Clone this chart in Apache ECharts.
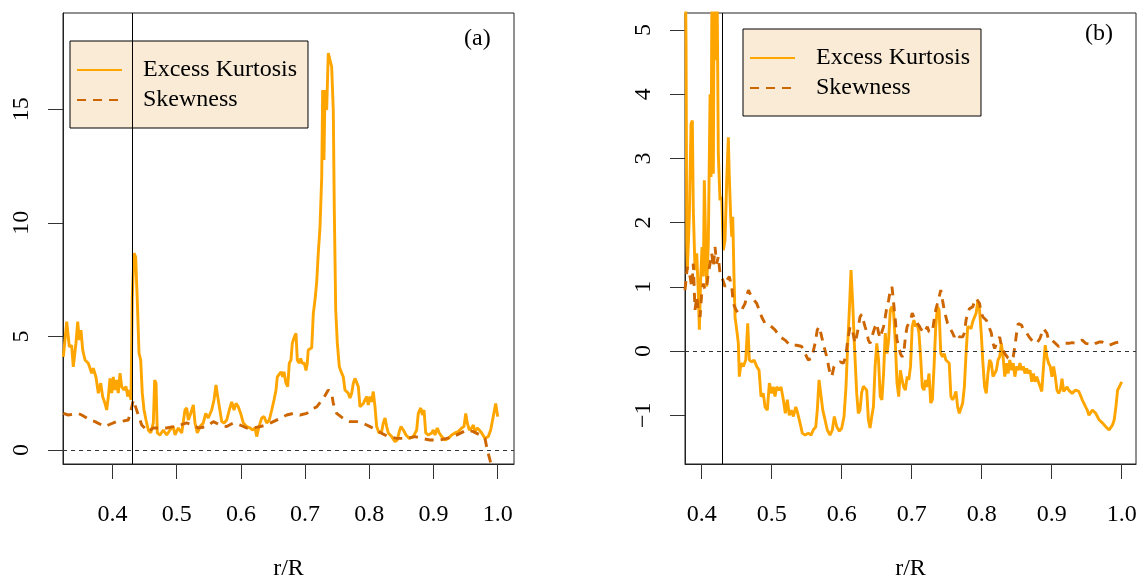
<!DOCTYPE html>
<html>
<head>
<meta charset="utf-8">
<script src="https://cdn.jsdelivr.net/npm/echarts@6/dist/echarts.min.js"></script>
<style>html,body{margin:0;padding:0;background:#fff}#c{width:1138px;height:578px}</style>
</head>
<body>
<div id="c"></div>
<script>
const xTicks = [0.4, 0.5, 0.6, 0.7, 0.8, 0.9, 1.0];
const yTicksA = [0, 5, 10, 15];
const yTicksB = [-1, 0, 1, 2, 3, 4, 5];
const seriesNames = ['Excess Kurtosis', 'Skewness'];
const panelLabels = ['(a)', '(b)'];
const markR = 0.43;

const kurtA = [[0.3234,4.1],[0.3287,5.65],[0.3327,4.55],[0.3364,4.6],[0.3389,3.66],[0.3431,4.7],[0.3458,5.65],[0.3483,4.84],[0.3509,5.28],[0.3536,4.4],[0.3572,3.96],[0.3623,3.82],[0.3676,3.38],[0.3701,3.6],[0.3743,3.2],[0.3779,2.5],[0.3816,2.94],[0.3847,2.35],[0.3883,2.05],[0.391,1.76],[0.3935,2.35],[0.3961,3.15],[0.3988,2.5],[0.4012,3.22],[0.4039,2.64],[0.4065,3.08],[0.409,2.5],[0.4117,3.38],[0.4143,2.79],[0.4179,2.64],[0.421,2.79],[0.4237,2.35],[0.4262,2.64],[0.4288,2.2],[0.4308,6.74],[0.4335,8.66],[0.4361,8.5],[0.4386,6.6],[0.4413,4.27],[0.4439,3.96],[0.4464,2.5],[0.4491,1.76],[0.4522,1.32],[0.4558,0.88],[0.4595,0.75],[0.4636,1.19],[0.4657,3.08],[0.4678,2.94],[0.4698,0.75],[0.474,0.66],[0.4791,0.88],[0.4844,0.66],[0.4896,0.88],[0.4947,1.03],[0.4974,0.66],[0.5025,0.97],[0.5078,0.75],[0.5129,1.76],[0.5156,1.85],[0.5181,1.32],[0.5218,1.61],[0.5259,1.98],[0.5285,1.19],[0.5321,0.75],[0.5363,1.03],[0.5414,1.19],[0.5452,1.61],[0.5492,1.41],[0.5545,1.76],[0.5581,2.2],[0.5612,2.86],[0.5639,2.35],[0.5664,1.9],[0.5701,1.25],[0.5737,1.19],[0.5779,1.32],[0.5819,1.76],[0.5857,2.12],[0.5893,1.76],[0.5924,2.05],[0.5959,1.9],[0.5997,1.61],[0.6037,1.19],[0.609,1.03],[0.6142,0.97],[0.6184,0.88],[0.622,0.97],[0.6246,0.59],[0.6282,1.03],[0.6324,1.41],[0.636,1.47],[0.6402,1.19],[0.6442,1.32],[0.648,1.76],[0.6516,2.2],[0.6547,2.64],[0.6567,3.22],[0.6598,3.3],[0.6625,3.44],[0.6651,3.22],[0.6671,3.44],[0.6702,2.94],[0.6729,2.79],[0.6754,3.82],[0.678,3.96],[0.6801,4.7],[0.6832,4.98],[0.6858,5.13],[0.6879,3.96],[0.6905,3.82],[0.6931,4.03],[0.6956,3.82],[0.6988,3.82],[0.7014,3.5],[0.7034,3.82],[0.7049,4.4],[0.7065,4.4],[0.7103,4.5],[0.7128,6.0],[0.7154,6.6],[0.7181,7.4],[0.7206,8.7],[0.7232,9.8],[0.7259,12.02],[0.7274,15.84],[0.7294,12.76],[0.731,15.84],[0.7336,14.96],[0.7361,17.47],[0.7388,17.16],[0.7414,16.86],[0.7439,14.96],[0.7455,10.56],[0.7477,6.16],[0.7502,4.7],[0.7533,3.66],[0.757,3.38],[0.7595,3.22],[0.7621,2.64],[0.7648,2.57],[0.7673,2.5],[0.7699,2.29],[0.7726,2.5],[0.7751,2.94],[0.7777,3.15],[0.7804,3.22],[0.7829,2.79],[0.7855,1.9],[0.7882,1.98],[0.7907,2.05],[0.7933,2.2],[0.7959,2.35],[0.7984,1.98],[0.8011,2.35],[0.8037,2.12],[0.8062,2.57],[0.8089,1.9],[0.8115,1.03],[0.8151,0.75],[0.8193,0.81],[0.8218,1.19],[0.8245,1.41],[0.8271,1.03],[0.8296,0.75],[0.8349,0.59],[0.84,0.37],[0.8436,0.44],[0.8467,0.81],[0.8494,1.03],[0.853,0.88],[0.8572,0.66],[0.8623,0.51],[0.8685,0.59],[0.8738,0.88],[0.8763,1.61],[0.8801,1.85],[0.8826,1.54],[0.8852,1.76],[0.8879,0.75],[0.8919,0.66],[0.8972,0.75],[0.8997,0.88],[0.9023,0.66],[0.9059,0.97],[0.909,0.75],[0.9128,0.59],[0.9179,0.44],[0.9231,0.51],[0.9283,0.66],[0.9335,0.75],[0.9386,0.81],[0.9439,0.97],[0.9475,1.03],[0.9502,1.61],[0.9526,1.19],[0.9558,0.88],[0.9595,0.97],[0.962,1.1],[0.9646,0.81],[0.9682,0.97],[0.9713,0.88],[0.9751,0.75],[0.9802,0.51],[0.9854,0.59],[0.9891,0.88],[0.9931,1.47],[0.9969,2.05],[1.0,1.47]];

const skewA = [[0.3234,1.61],[0.3312,1.54],[0.3467,1.61],[0.352,1.54],[0.365,1.32],[0.3727,1.25],[0.3883,1.03],[0.3935,1.1],[0.4065,1.25],[0.4117,1.25],[0.4246,1.32],[0.4283,1.69],[0.4324,2.2],[0.4402,1.54],[0.4455,1.1],[0.4558,0.81],[0.4636,0.97],[0.474,0.97],[0.4844,0.97],[0.4947,1.03],[0.5051,1.1],[0.5156,1.19],[0.5259,1.1],[0.5336,0.97],[0.5467,1.03],[0.557,1.25],[0.5674,1.1],[0.5779,1.03],[0.5882,1.19],[0.5986,1.1],[0.609,0.97],[0.6193,0.97],[0.6298,1.03],[0.6402,1.1],[0.6505,1.25],[0.6609,1.39],[0.6713,1.54],[0.6816,1.61],[0.6921,1.54],[0.7025,1.61],[0.7128,1.83],[0.7181,1.9],[0.7284,2.27],[0.7361,2.64],[0.7414,2.5],[0.7439,2.05],[0.7492,1.61],[0.7595,1.39],[0.7699,1.25],[0.7804,1.25],[0.7907,1.17],[0.8011,1.03],[0.8115,0.88],[0.8193,0.73],[0.8296,0.59],[0.8427,0.51],[0.8583,0.51],[0.8712,0.59],[0.8816,0.51],[0.8946,0.44],[0.9101,0.44],[0.9206,0.51],[0.9308,0.59],[0.9413,0.73],[0.9517,0.88],[0.962,0.81],[0.9724,0.66],[0.9802,0.51],[0.9838,0.0],[0.988,-0.44],[0.9927,-1.0]];

const kurtB = [[0.3761,6.5],[0.3776,4.79],[0.3786,1.67],[0.3794,1.26],[0.3823,2.09],[0.3847,3.54],[0.3866,3.59],[0.388,2.19],[0.3904,1.26],[0.3929,1.52],[0.3951,0.9],[0.3966,0.33],[0.3986,1.16],[0.4004,1.62],[0.4023,1.16],[0.4037,2.66],[0.4057,1.67],[0.4071,1.0],[0.4094,1.67],[0.4119,4.0],[0.4133,2.71],[0.4147,6.0],[0.4166,2.76],[0.418,6.5],[0.42,4.53],[0.4214,6.5],[0.4237,3.07],[0.4261,2.35],[0.4286,2.4],[0.4309,1.57],[0.4333,1.73],[0.4357,2.66],[0.438,3.33],[0.4394,2.71],[0.4414,2.09],[0.4429,1.78],[0.4443,2.09],[0.4461,1.16],[0.4476,0.53],[0.45,0.33],[0.4523,0.12],[0.4537,-0.4],[0.4561,-0.19],[0.4594,-0.24],[0.4629,-0.14],[0.4657,0.43],[0.468,-0.14],[0.4714,-0.17],[0.4747,-0.14],[0.4786,-0.24],[0.4819,-0.3],[0.4847,-0.71],[0.488,-0.66],[0.4904,-0.87],[0.4937,-0.92],[0.4966,-0.5],[0.5,-0.66],[0.5023,-0.56],[0.5047,-0.71],[0.5071,-0.56],[0.5104,-0.61],[0.5133,-0.56],[0.5166,-0.76],[0.5194,-0.97],[0.5223,-0.76],[0.5251,-1.0],[0.528,-0.92],[0.5309,-1.02],[0.5343,-0.87],[0.5371,-0.97],[0.5404,-1.12],[0.5437,-1.28],[0.5476,-1.31],[0.5523,-1.28],[0.5561,-1.31],[0.5594,-1.23],[0.5629,-1.18],[0.5651,-0.92],[0.5676,-0.45],[0.57,-0.66],[0.5729,-0.92],[0.5761,-1.07],[0.5794,-1.23],[0.5833,-1.31],[0.5866,-1.23],[0.5894,-1.02],[0.5929,-1.18],[0.5966,-1.25],[0.6,-1.2],[0.6033,-1.02],[0.6061,-0.56],[0.6086,0.12],[0.6109,0.64],[0.6133,1.26],[0.6157,0.74],[0.618,0.12],[0.6214,-0.66],[0.6237,-0.97],[0.6261,-0.92],[0.6285,-0.65],[0.6309,-0.55],[0.6333,-0.53],[0.6357,-0.61],[0.6381,-1.07],[0.6405,-1.2],[0.6429,-1.02],[0.6453,-0.87],[0.6477,-0.24],[0.6501,0.12],[0.6526,-0.14],[0.655,-0.71],[0.6574,-0.76],[0.6598,-0.35],[0.6622,0.28],[0.6646,-0.04],[0.667,0.17],[0.6694,0.64],[0.6718,0.69],[0.6742,0.59],[0.6766,0.12],[0.679,-0.5],[0.6814,-0.71],[0.6838,-0.3],[0.6862,-0.45],[0.6886,-0.56],[0.691,-0.61],[0.6934,-0.4],[0.6958,-0.45],[0.6983,-0.24],[0.7007,0.38],[0.7031,0.48],[0.7055,0.38],[0.7079,0.43],[0.7103,0.28],[0.7127,-0.09],[0.7151,-0.56],[0.7175,-0.61],[0.7199,-0.45],[0.7223,-0.56],[0.7247,-0.35],[0.7271,-0.81],[0.7295,-0.76],[0.7319,-0.24],[0.7343,0.38],[0.7367,0.69],[0.7391,0.64],[0.7415,-0.04],[0.744,-0.09],[0.7464,-0.04],[0.7488,-0.14],[0.7512,-0.11],[0.7536,-0.19],[0.756,-0.71],[0.7584,-0.76],[0.7608,-0.71],[0.7632,-0.63],[0.7656,-0.87],[0.768,-0.97],[0.7704,-0.94],[0.7728,-0.81],[0.7752,-0.56],[0.7776,-0.04],[0.78,0.38],[0.7824,0.4],[0.7848,0.35],[0.7872,0.46],[0.7896,0.43],[0.792,0.59],[0.7944,0.77],[0.7969,0.64],[0.7993,0.28],[0.8017,-0.19],[0.8041,-0.56],[0.8065,-0.66],[0.8089,-0.35],[0.8113,-0.14],[0.8137,-0.19],[0.8161,-0.4],[0.8185,-0.35],[0.8209,-0.3],[0.8233,-0.14],[0.8257,-0.09],[0.8281,0.12],[0.8305,-0.09],[0.8329,-0.4],[0.8353,-0.19],[0.8377,-0.35],[0.8401,-0.14],[0.8426,-0.3],[0.845,-0.19],[0.8474,-0.4],[0.8498,-0.24],[0.8522,-0.3],[0.8546,-0.19],[0.857,-0.3],[0.8594,-0.24],[0.8618,-0.35],[0.8642,-0.27],[0.8666,-0.35],[0.869,-0.3],[0.8714,-0.48],[0.8738,-0.35],[0.8762,-0.48],[0.8786,-0.4],[0.881,-0.48],[0.8834,-0.5],[0.8858,-0.63],[0.8883,-0.24],[0.8907,0.09],[0.8931,-0.09],[0.8955,-0.19],[0.8979,-0.24],[0.9003,-0.4],[0.9027,-0.24],[0.9051,-0.4],[0.9075,-0.61],[0.9099,-0.66],[0.9123,-0.61],[0.9147,-0.43],[0.9171,-0.63],[0.9195,-0.61],[0.9219,-0.56],[0.9243,-0.61],[0.9267,-0.63],[0.9291,-0.66],[0.9315,-0.63],[0.9339,-0.61],[0.9363,-0.61],[0.9388,-0.63],[0.9412,-0.66],[0.9436,-0.76],[0.946,-0.76],[0.9484,-0.87],[0.9508,-0.92],[0.9532,-1.0],[0.9556,-0.97],[0.958,-0.92],[0.9604,-0.89],[0.9628,-0.97],[0.9652,-1.02],[0.9676,-1.07],[0.97,-1.1],[0.9724,-1.12],[0.9748,-1.15],[0.9772,-1.18],[0.9796,-1.2],[0.982,-1.23],[0.9845,-1.2],[0.9869,-1.15],[0.9893,-1.07],[0.9917,-0.87],[0.9941,-0.61],[0.9965,-0.56],[0.9989,-0.58],[1.0,-0.48]];

const skewB = [[0.3761,0.95],[0.3794,1.31],[0.3833,1.16],[0.3857,1.0],[0.388,1.36],[0.3904,0.64],[0.3929,0.84],[0.3951,0.64],[0.3976,0.53],[0.4,0.9],[0.4023,1.05],[0.4047,0.95],[0.4071,1.0],[0.4094,1.21],[0.4119,1.36],[0.4143,1.52],[0.4166,1.31],[0.419,1.62],[0.4214,1.36],[0.4237,1.47],[0.4261,1.21],[0.4286,1.16],[0.4333,1.0],[0.4357,1.1],[0.4394,1.16],[0.4429,1.0],[0.4451,0.74],[0.449,0.64],[0.4523,0.59],[0.4571,0.64],[0.4619,0.74],[0.4666,0.95],[0.4714,0.84],[0.4786,0.74],[0.4857,0.53],[0.4904,0.43],[0.4976,0.4],[0.5047,0.33],[0.5119,0.22],[0.519,0.17],[0.5261,0.09],[0.5357,0.09],[0.5429,0.07],[0.5476,-0.04],[0.5523,-0.14],[0.5571,-0.11],[0.5619,0.12],[0.5651,0.33],[0.568,0.38],[0.5714,0.22],[0.5747,0.07],[0.5786,-0.09],[0.5823,-0.3],[0.5857,-0.4],[0.589,-0.24],[0.5929,-0.19],[0.5976,-0.17],[0.6023,-0.19],[0.6057,-0.09],[0.6086,0.17],[0.6119,0.38],[0.6157,0.3],[0.619,0.12],[0.6223,0.28],[0.6261,0.53],[0.6285,0.57],[0.6333,0.38],[0.6357,0.3],[0.6381,0.17],[0.6405,0.12],[0.6429,0.14],[0.6453,0.3],[0.6477,0.38],[0.6501,0.43],[0.6526,0.28],[0.655,0.2],[0.6574,0.3],[0.6598,0.38],[0.6622,0.53],[0.6646,0.69],[0.667,0.79],[0.6694,0.95],[0.6718,1.0],[0.6742,0.74],[0.6766,0.48],[0.679,0.17],[0.6814,0.07],[0.6838,-0.04],[0.6862,-0.09],[0.6886,-0.04],[0.691,0.22],[0.6934,0.38],[0.6958,0.43],[0.6983,0.48],[0.7007,0.59],[0.7031,0.53],[0.7055,0.46],[0.7079,0.43],[0.7103,0.4],[0.7127,0.35],[0.7151,0.33],[0.7175,0.28],[0.7199,0.33],[0.7223,0.38],[0.7247,0.3],[0.7271,0.28],[0.7295,0.3],[0.7319,0.48],[0.7343,0.64],[0.7367,0.74],[0.7391,0.84],[0.7415,0.95],[0.744,0.79],[0.7464,0.64],[0.7488,0.53],[0.7512,0.43],[0.7536,0.38],[0.756,0.33],[0.7584,0.28],[0.7608,0.22],[0.7632,0.28],[0.7656,0.3],[0.768,0.22],[0.7704,0.2],[0.7728,0.22],[0.7752,0.28],[0.7776,0.48],[0.78,0.59],[0.7824,0.66],[0.7848,0.64],[0.7872,0.69],[0.7896,0.77],[0.792,0.82],[0.7944,0.82],[0.7969,0.74],[0.7993,0.59],[0.8017,0.53],[0.8041,0.51],[0.8065,0.48],[0.8089,0.43],[0.8113,0.35],[0.8137,0.28],[0.8161,0.12],[0.8185,0.04],[0.8209,0.02],[0.8233,0.17],[0.8257,0.22],[0.8281,0.07],[0.8329,-0.04],[0.8377,-0.11],[0.8426,-0.14],[0.845,-0.09],[0.8474,0.07],[0.8498,0.28],[0.8522,0.43],[0.8546,0.46],[0.857,0.4],[0.8594,0.33],[0.8618,0.3],[0.8642,0.28],[0.8666,0.25],[0.869,0.2],[0.8714,0.17],[0.8738,0.14],[0.8762,0.12],[0.8786,0.12],[0.881,0.14],[0.8834,0.2],[0.8858,0.28],[0.8883,0.35],[0.8907,0.38],[0.8931,0.28],[0.8955,0.17],[0.8979,0.14],[0.9003,0.17],[0.9027,0.17],[0.9051,0.12],[0.9075,0.09],[0.9099,0.07],[0.9123,0.07],[0.9147,0.09],[0.9195,0.12],[0.9243,0.12],[0.9291,0.13],[0.9339,0.12],[0.9388,0.14],[0.9412,0.17],[0.9436,0.17],[0.9484,0.12],[0.9532,0.11],[0.958,0.09],[0.9628,0.12],[0.9676,0.14],[0.9724,0.14],[0.9772,0.12],[0.982,0.09],[0.9869,0.11],[0.9917,0.13],[0.9965,0.14],[0.9989,0.13]];

const FONT = 'Liberation Serif';
const KC = '#FFA500';
const SC = '#CD6600';

function xAxisCfg(gi, min, max) {
  return {
    type: 'value', gridIndex: gi, min: min, max: max, position: 'bottom',
    splitLine: { show: false },
    axisLine: { show: true, onZero: false, lineStyle: { color: '#222', width: 1 } },
    axisTick: { show: true, inside: false, length: 15, customValues: xTicks, lineStyle: { color: '#333', width: 1 } },
    axisLabel: { customValues: xTicks, formatter: v => v.toFixed(1), fontFamily: FONT, fontSize: 24, color: '#000', margin: 39 },
    name: 'r/R', nameLocation: 'middle', nameGap: 93,
    nameTextStyle: { fontFamily: FONT, fontSize: 24, color: '#000' }
  };
}
function yAxisCfg(gi, min, max, ticks) {
  return {
    type: 'value', gridIndex: gi, min: min, max: max, position: 'left',
    splitLine: { show: false },
    axisLine: { show: true, onZero: false, lineStyle: { color: '#222', width: 1 } },
    axisTick: { show: true, inside: false, length: 15, customValues: ticks, lineStyle: { color: '#333', width: 1 } },
    axisLabel: { customValues: ticks, rotate: 90, formatter: v => String(v).replace('-', '\u2212'), fontFamily: FONT, fontSize: 24, color: '#000', margin: 29 }
  };
}
function legendCfg(left, top) {
  return {
    left: left, top: top, orient: 'vertical', data: seriesNames, selectedMode: false,
    backgroundColor: '#FAEBD7', borderColor: '#000', borderWidth: 1, borderRadius: 0,
    padding: [14, 11, 13, 6], itemGap: 0, itemWidth: 45, itemHeight: 14,
    itemStyle: { opacity: 0 },
    lineStyle: { width: 2 },
    textStyle: { fontFamily: FONT, fontSize: 24, color: '#000', lineHeight: 30, padding: [0, 0, 0, 16] }
  };
}
function refLines() {
  return {
    silent: true, symbol: 'none', label: { show: false }, animation: false,
    data: [
      { yAxis: 0, lineStyle: { type: [4, 4], color: '#333', width: 1 } },
      { xAxis: markR, lineStyle: { type: 'solid', color: '#000', width: 1 } }
    ]
  };
}
function lineSeries(name, gi, data, color, dashed, withRefs) {
  const s = {
    type: 'line', name: name, xAxisIndex: gi, yAxisIndex: gi, data: data,
    showSymbol: false, symbol: 'none', clip: true, animation: false,
    lineStyle: { color: color, width: 2.9, type: dashed ? [9, 7] : 'solid' },
    itemStyle: { color: color }, z: dashed ? 4 : 3
  };
  if (withRefs) s.markLine = refLines();
  return s;
}

const chart = echarts.init(document.getElementById('c'), null, { renderer: 'canvas' });
chart.setOption({
  backgroundColor: '#fff',
  animation: false,
  grid: [
    { left: 63, top: 13, width: 451, height: 451, outerBoundsMode: 'none', containLabel: false, show: true, borderColor: '#222', borderWidth: 1, backgroundColor: 'transparent' },
    { left: 685, top: 13, width: 451, height: 451, outerBoundsMode: 'none', containLabel: false, show: true, borderColor: '#222', borderWidth: 1, backgroundColor: 'transparent' }
  ],
  xAxis: [xAxisCfg(0, 0.3229, 1.0254), xAxisCfg(1, 0.3761, 1.0204)],
  yAxis: [yAxisCfg(0, -0.616, 19.23, yTicksA), yAxisCfg(1, -1.76, 5.265, yTicksB)],
  legend: [legendCfg(70, 41), legendCfg(743, 29)],
  title: [
    { text: panelLabels[0], left: 464, top: 27, padding: 0, textStyle: { fontFamily: FONT, fontSize: 24, fontWeight: 'normal', color: '#000' } },
    { text: panelLabels[1], left: 1085, top: 22, padding: 0, textStyle: { fontFamily: FONT, fontSize: 24, fontWeight: 'normal', color: '#000' } }
  ],
  series: [
    lineSeries(seriesNames[0], 0, kurtA, KC, false, false),
    lineSeries(seriesNames[1], 0, skewA, SC, true, true),
    lineSeries(seriesNames[0], 1, kurtB, KC, false, false),
    lineSeries(seriesNames[1], 1, skewB, SC, true, true)
  ]
});
</script>
</body>
</html>
